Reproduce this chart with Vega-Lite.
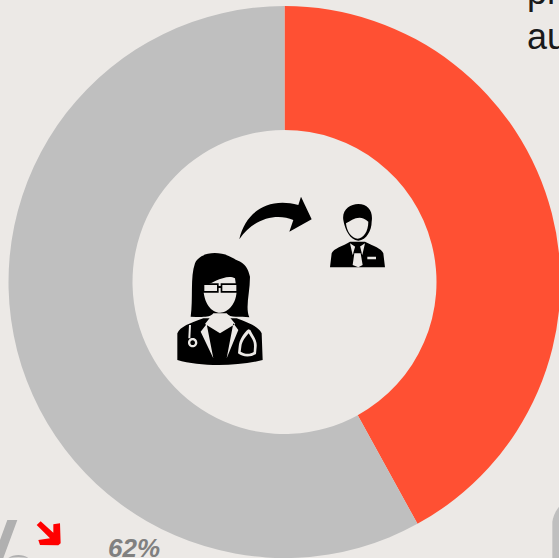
{
"$schema":"https://vega.github.io/schema/vega-lite/v6.json",
"width":549,"height":552,
"autosize":{"type":"none"},
"padding":{"left":10,"top":6,"right":0,"bottom":0},
"background":"#ECE9E6",
"config":{"view":{"stroke":null}},
"resolve":{"scale":{"color":"independent"}},
"layer":[
{"data":{"values":[{"segment":"Share A","value":42,"rank":1},{"segment":"Share B","value":58,"rank":2}]},
 "mark":{"type":"arc","outerRadius":276,"innerRadius":152},
 "encoding":{"theta":{"field":"value","type":"quantitative","stack":true,"scale":{"domain":[0,100]}},
  "order":{"field":"rank"},
  "color":{"field":"segment","type":"nominal","legend":null,"scale":{"domain":["Share A","Share B"],"range":["#FF5033","#BFBFBF"]}}}},
{"data":{"values":[
  {"part":"black base","tone":"black","x":170,"y":190},
  {"part":"light base","tone":"light","x":170,"y":190},
  {"part":"black detail","tone":"black","x":170,"y":190},
  {"part":"light detail","tone":"light","x":170,"y":190},
  {"part":"black inner","tone":"black","x":170,"y":190},
  {"part":"red arrow","tone":"red","x":0,"y":480},
  {"part":"grey letter","tone":"grey","x":0,"y":480},
  {"part":"grey corner","tone":"silver","x":520,"y":490}
 ]},
 "mark":{"type":"point","filled":true,"size":0.4444,"opacity":1,"strokeWidth":0},
 "encoding":{
  "x":{"field":"x","type":"quantitative","axis":null,"scale":{"domain":[10,559],"nice":false,"zero":false}},
  "y":{"field":"y","type":"quantitative","axis":null,"scale":{"domain":[558,6],"nice":false,"zero":false}},
  "shape":{"field":"part","type":"nominal","legend":null,"scale":{
   "domain":["black base","light base","black detail","light detail","black inner","red arrow","grey letter","grey corner"],
   "range":[
    "M208 148C225 70 290 20 385 45L393 20L425 88L358 125L370 90C320 68 250 85 208 148Z M22 430C30 410 60 400 100 385L200 385C240 400 265 410 275 430L278 510C200 530 90 530 22 510Z M62 380C70 330 60 260 75 220C90 185 150 180 190 205C205 215 230 215 240 260C240 310 225 350 238 382C210 380 180 385 170 370L130 370C120 385 90 380 62 380Z M480 232L485 190C490 175 520 168 540 155L585 155C610 168 635 175 640 190L645 232Z M520 90C515 60 540 42 565 42C595 42 610 65 605 95C605 120 590 150 565 152C540 150 525 120 520 90Z",
    "M100 290C125 280 170 250 195 265L200 300C200 340 175 368 150 368C125 368 100 340 100 290Z M122 380L178 380L196 402L150 430L105 402Z M92 425L110 402L130 505Z M205 420L190 400L170 505Z M528 100C545 90 570 70 595 95C595 125 580 145 563 146C545 145 530 125 528 100Z M540 160L558 172L548 195Z M585 160L567 172L577 195Z M553 190L572 190L578 225L565 232L548 225Z M592 200L618 200L618 208L592 208Z",
    "M98 280L146 280L146 308L98 308Z M152 280L204 280L204 308L152 308Z M146 288L152 288L152 294L146 294Z M88 285L98 285L98 290L88 290Z M204 285L214 285L214 290L204 290Z M556 168L570 168L575 188L550 188Z",
    "M103 285L141 285L141 303L103 303Z M157 285L199 285L199 303L157 303Z M57 405L63 405L61 445L55 445Z M54 458A14 14 0 1 1 82 458A14 14 0 1 1 54 458Z M235 418L241 420C250 440 262 450 260 470L258 492C240 504 215 500 204 490L206 470C208 450 220 430 235 418Z",
    "M61 458A7 7 0 1 1 75 458A7 7 0 1 1 61 458Z M236 430C245 446 253 453 252 470L251 486C240 494 222 492 212 485L214 470C216 453 226 442 236 430Z",
    "M110 135L122 124L160 158L160 133L180 130L182 190L175 196L120 195L115 180L150 175Z",
    "M22 120L52 120L10 234L0 234L0 180Z M25 234C40 222 70 222 85 234C65 231 45 231 25 234Z",
    "M97 204L97 95C99 82 105 65 117 50L117 204Z"
   ]}},
  "color":{"field":"tone","type":"nominal","legend":null,"scale":{"domain":["black","light","red","grey","silver"],"range":["#000000","#ECE9E6","#FF0000","#B0B0B0","#BFBFBF"]}}
 }},
{"data":{"values":[{"label":"pr","x":527,"y":4},{"label":"au","x":527,"y":49}]},
 "mark":{"type":"text","align":"left","baseline":"alphabetic","font":"Liberation Sans","fontSize":36,"color":"#1a1a1a"},
 "encoding":{"x":{"field":"x","type":"quantitative","axis":null},"y":{"field":"y","type":"quantitative","axis":null},"text":{"field":"label"}}},
{"data":{"values":[{"label":"62%","x":108,"y":557}]},
 "mark":{"type":"text","align":"left","baseline":"alphabetic","font":"Liberation Sans","fontSize":26,"fontWeight":"bold","fontStyle":"italic","color":"#808080"},
 "encoding":{"x":{"field":"x","type":"quantitative","axis":null},"y":{"field":"y","type":"quantitative","axis":null},"text":{"field":"label"}}}
]}
